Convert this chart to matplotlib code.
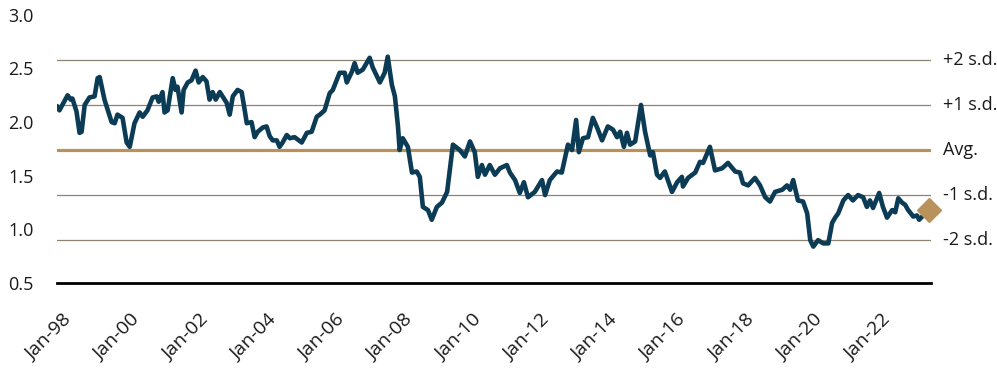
import matplotlib.pyplot as plt
import matplotlib.transforms as mtransforms
import numpy as np

plt.rcParams['font.family'] = ['Open Sans', 'DejaVu Sans']

# decimal year and value
years = [1998.00, 1998.07, 1998.31, 1998.40, 1998.45, 1998.57, 1998.66, 1998.72, 1998.81, 1998.95,
         1999.10, 1999.19, 1999.25, 1999.39, 1999.60, 1999.69, 1999.77, 1999.92, 2000.04, 2000.13,
         2000.27, 2000.42, 2000.51, 2000.65, 2000.80, 2000.92, 2000.98, 2001.09, 2001.15, 2001.24,
         2001.39, 2001.47, 2001.53, 2001.65, 2001.71, 2001.83, 2001.94, 2002.06, 2002.15, 2002.27,
         2002.38, 2002.47, 2002.56, 2002.65, 2002.77, 2002.85, 2002.97, 2003.06, 2003.15, 2003.29,
         2003.41, 2003.50, 2003.56, 2003.70, 2003.79, 2003.88, 2004.03, 2004.14, 2004.23, 2004.32,
         2004.44, 2004.52, 2004.61, 2004.73, 2004.82, 2004.96, 2005.17, 2005.32, 2005.46, 2005.61,
         2005.70, 2005.84, 2005.99, 2006.08, 2006.28, 2006.43, 2006.49, 2006.64, 2006.72, 2006.81,
         2006.96, 2007.16, 2007.25, 2007.46, 2007.60, 2007.69, 2007.81, 2007.90, 2007.99, 2008.04,
         2008.13, 2008.28, 2008.40, 2008.54, 2008.63, 2008.72, 2008.87, 2008.98, 2009.13, 2009.28,
         2009.43, 2009.60, 2009.80, 2009.95, 2010.10, 2010.24, 2010.33, 2010.45, 2010.54, 2010.68,
         2010.83, 2010.98, 2011.18, 2011.27, 2011.42, 2011.56, 2011.68, 2011.80, 2012.00, 2012.21,
         2012.30, 2012.44, 2012.65, 2012.79, 2012.97, 2013.09, 2013.21, 2013.29, 2013.41, 2013.56,
         2013.70, 2013.85, 2013.97, 2014.14, 2014.29, 2014.41, 2014.50, 2014.61, 2014.70, 2014.79,
         2014.94, 2015.11, 2015.23, 2015.38, 2015.46, 2015.58, 2015.67, 2015.81, 2016.02, 2016.17,
         2016.31, 2016.34, 2016.49, 2016.70, 2016.84, 2016.93, 2017.13, 2017.28, 2017.49, 2017.66,
         2017.87, 2018.01, 2018.10, 2018.25, 2018.45, 2018.60, 2018.75, 2018.89, 2019.04, 2019.25,
         2019.39, 2019.48, 2019.57, 2019.71, 2019.86, 2019.98, 2020.07, 2020.16, 2020.30, 2020.45,
         2020.60, 2020.71, 2020.80, 2020.89, 2021.04, 2021.18, 2021.32, 2021.47, 2021.62, 2021.73,
         2021.82, 2021.91, 2022.09, 2022.20, 2022.32, 2022.47, 2022.56, 2022.65, 2022.76, 2022.85,
         2022.94, 2023.09, 2023.20, 2023.26, 2023.38]
values = [2.15, 2.11, 2.25, 2.21, 2.22, 2.10, 1.90, 1.91, 2.16, 2.23,
          2.24, 2.41, 2.42, 2.21, 2.00, 1.99, 2.07, 2.04, 1.81, 1.77,
          1.99, 2.09, 2.05, 2.11, 2.23, 2.24, 2.19, 2.28, 2.09, 2.11,
          2.41, 2.30, 2.33, 2.09, 2.30, 2.37, 2.39, 2.48, 2.37, 2.42,
          2.38, 2.21, 2.28, 2.21, 2.28, 2.24, 2.18, 2.07, 2.24, 2.30,
          2.28, 2.11, 1.99, 2.00, 1.86, 1.91, 1.95, 1.96, 1.87, 1.83,
          1.83, 1.77, 1.81, 1.88, 1.85, 1.86, 1.81, 1.90, 1.91, 2.05,
          2.07, 2.11, 2.27, 2.30, 2.46, 2.46, 2.37, 2.47, 2.55, 2.46,
          2.49, 2.60, 2.51, 2.37, 2.46, 2.61, 2.35, 2.24, 1.96, 1.74,
          1.85, 1.77, 1.53, 1.54, 1.49, 1.21, 1.18, 1.09, 1.21, 1.25,
          1.35, 1.79, 1.74, 1.68, 1.82, 1.72, 1.49, 1.60, 1.51, 1.60,
          1.51, 1.57, 1.60, 1.53, 1.46, 1.34, 1.44, 1.30, 1.35, 1.46,
          1.32, 1.46, 1.54, 1.53, 1.79, 1.74, 2.02, 1.72, 1.85, 1.86,
          2.04, 1.93, 1.83, 1.96, 1.93, 1.86, 1.91, 1.77, 1.90, 1.79,
          1.82, 2.16, 1.91, 1.69, 1.72, 1.51, 1.48, 1.54, 1.35, 1.44,
          1.49, 1.40, 1.48, 1.53, 1.63, 1.62, 1.77, 1.55, 1.57, 1.62,
          1.54, 1.53, 1.43, 1.41, 1.48, 1.41, 1.30, 1.26, 1.35, 1.37,
          1.41, 1.37, 1.46, 1.27, 1.26, 1.15, 0.90, 0.84, 0.90, 0.87,
          0.87, 1.06, 1.11, 1.15, 1.27, 1.32, 1.27, 1.32, 1.30, 1.21,
          1.27, 1.20, 1.34, 1.21, 1.11, 1.18, 1.16, 1.29, 1.25, 1.23,
          1.18, 1.12, 1.13, 1.09, 1.13]

latest_year = 2023.55
latest_value = 1.18

avg = 1.74
sd = 0.42
band_names = ['+2 s.d.', '+1 s.d.', 'Avg.', '-1 s.d.', '-2 s.d.']
band_mult = [2, 1, 0, -1, -2]

tick_years = list(range(1998, 2023, 2))
tick_labels = ['Jan-%02d' % (y % 100) for y in tick_years]

navy = '#0c3c55'
gold = '#b8925a'
greyline = '#8e8272'

fig = plt.figure(figsize=(9.97, 3.71), dpi=100)
ax = fig.add_axes([0.0572, 0.237, 0.877, 0.723])

for name, m in zip(band_names, band_mult):
    lvl = avg + m * sd
    if m == 0:
        ax.axhline(lvl, color=gold, lw=2.3, zorder=2)
    else:
        ax.axhline(lvl, color=greyline, lw=0.9, zorder=1)
    ax.annotate(name, xy=(1, lvl), xycoords=('axes fraction', 'data'),
                xytext=(8, 0), textcoords='offset points',
                ha='left', va='center', fontsize=13, color='#1a1a1a')

ax.plot(years, values, color=navy, lw=3.3, solid_joinstyle='round', solid_capstyle='round', zorder=3)
ax.plot([latest_year], [latest_value], marker='D', ms=12, color=gold, clip_on=False, zorder=4)

ax.set_xlim(1998, 2023.62)
ax.set_ylim(0.5, 3.0)
ax.set_yticks(np.arange(0.5, 3.01, 0.5))
ax.set_yticklabels(['%.1f' % v for v in np.arange(0.5, 3.01, 0.5)])
ax.set_xticks(tick_years)
ax.set_xticklabels(tick_labels, rotation=45, ha='right', rotation_mode='anchor')

for s in ['top', 'right', 'left']:
    ax.spines[s].set_visible(False)
ax.spines['bottom'].set_color('black')
ax.spines['bottom'].set_linewidth(2)
ax.tick_params(axis='both', length=0, labelsize=13, colors='#1a1a1a')
ax.tick_params(axis='x', labelsize=14, pad=20)
ax.tick_params(axis='y', pad=17)

shift = mtransforms.ScaledTranslation(4 / 72, 0, fig.dpi_scale_trans)
for lab in ax.get_xticklabels():
    lab.set_transform(lab.get_transform() + shift)

plt.savefig('out.png', dpi=100)
